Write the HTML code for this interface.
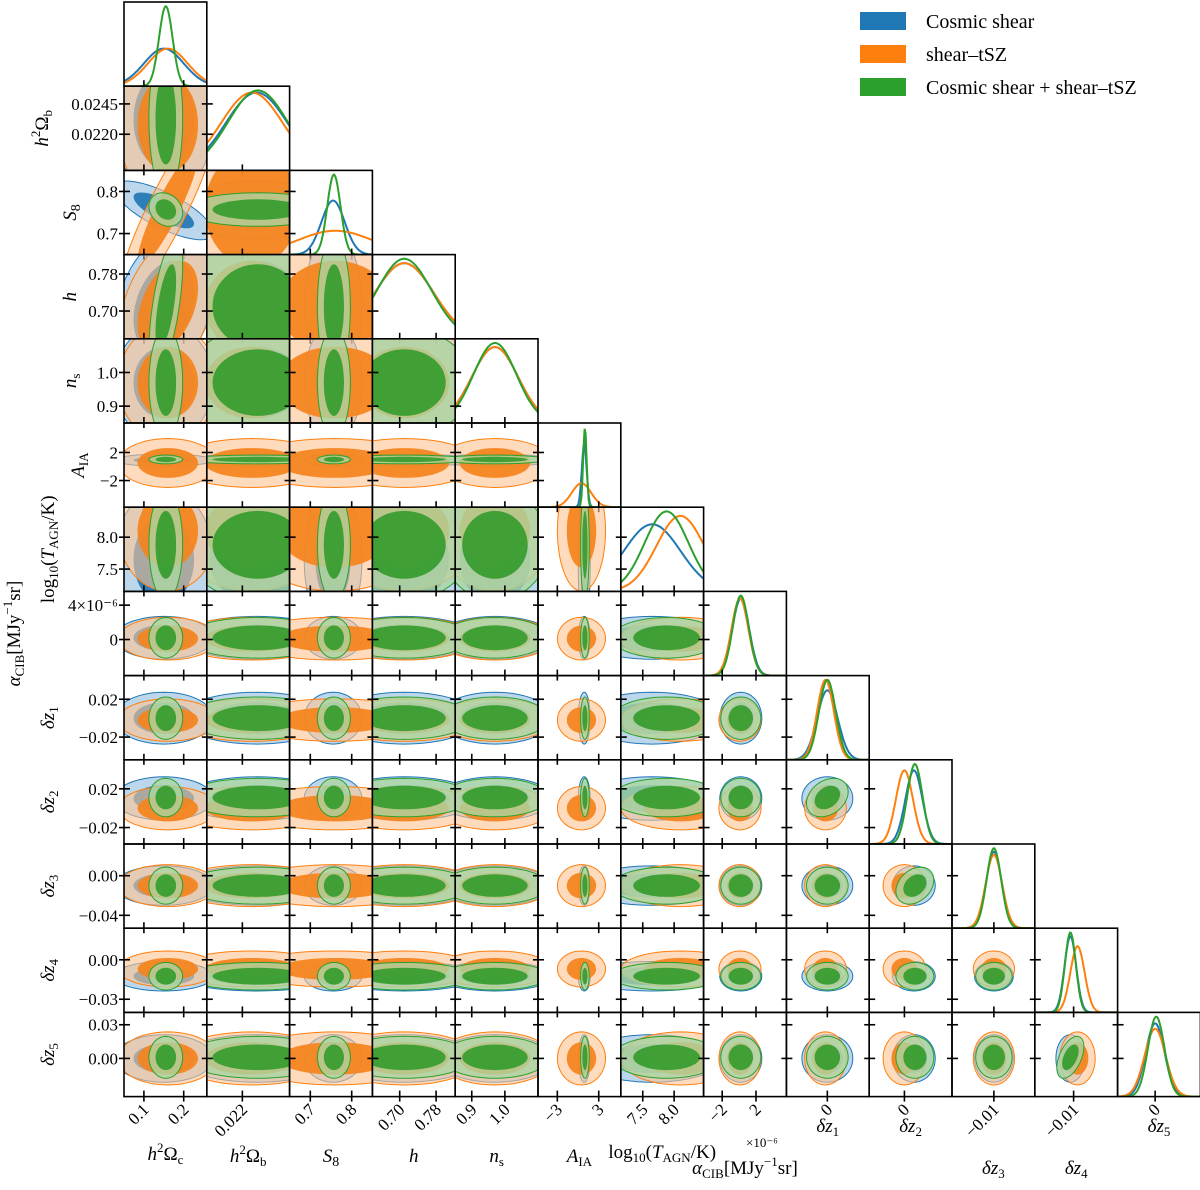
<!DOCTYPE html>
<html><head><meta charset="utf-8"><style>
html,body{margin:0;padding:0;background:#fff}
svg text{font-family:"Liberation Serif","DejaVu Serif",serif;fill:#000}
</style></head><body>
<svg id="chart" width="1200" height="1185" viewBox="0 0 1200 1185" xmlns="http://www.w3.org/2000/svg">
<g id="legend">
<g><rect x="860" y="12" width="46" height="18" fill="#1f77b4"/><text x="926" y="28" font-size="20">Cosmic shear</text></g>
<g><rect x="860" y="45" width="46" height="18" fill="#ff7f0e"/><text x="926" y="61" font-size="20">shear–tSZ</text></g>
<g><rect x="860" y="78" width="46" height="18" fill="#2ca02c"/><text x="926" y="94" font-size="20">Cosmic shear + shear–tSZ</text></g>
</g>
</svg>
<script>
// ---- data ----
const paramNames = ["h2Oc","h2Ob","S8","h","ns","AIA","logT","aCIB","dz1","dz2","dz3","dz4","dz5"];
const rangeLo = [0.05,0.01902,0.65,0.64,0.85,-5.8,7.15,-4.2,-0.044,-0.037,-0.053,-0.04,-0.034];
const rangeHi = [0.258,0.02596,0.85,0.822,1.10,6.2,8.47,5.6,0.045,0.05,0.032,0.024,0.041];
const xTicks = [[0.1,0.2],[0.022],[0.7,0.8],[0.70,0.78],[0.9,1.0],[-3,3],[7.5,8.0],[-2,2],[0],[0],[-0.01],[-0.01],[0]];
const xTickLabels = [["0.1","0.2"],["0.022"],["0.7","0.8"],["0.70","0.78"],["0.9","1.0"],["−3","3"],["7.5","8.0"],["−2","2"],["0"],["0"],["−0.01"],["−0.01"],["0"]];
const yTicks = [[],[0.0245,0.0220],[0.8,0.7],[0.78,0.70],[1.0,0.9],[2,-2],[8.0,7.5],[4,0],[0.02,-0.02],[0.02,-0.02],[0.00,-0.04],[0.00,-0.03],[0.03,0.00]];
const yTickLabels = [[],["0.0245","0.0220"],["0.8","0.7"],["0.78","0.70"],["1.0","0.9"],["2","−2"],["8.0","7.5"],["4×10⁻⁶","0"],["0.02","−0.02"],["0.02","−0.02"],["0.00","−0.04"],["0.00","−0.03"],["0.03","0.00"]];
// series: means and sigmas (aCIB in units of 1e-6)
const meanShear = [0.15,0.0232,0.755,0.71,0.97,0.9,7.65,0.2,0.0,0.010,-0.010,-0.0125,0.0];
const sigShear  = [0.05,0.0026,0.028,0.065,0.07,0.35,0.45,1.0,0.011,0.009,0.008,0.0045,0.0085];
const meanTSZ   = [0.16,0.0228,0.76,0.71,0.97,0.5,8.10,0.1,-0.002,0.0,-0.010,-0.007,0.0];
const sigTSZ    = [0.05,0.0026,0.09,0.065,0.07,1.4,0.38,1.0,0.009,0.009,0.0085,0.0055,0.0095];
const meanComb  = [0.155,0.0233,0.757,0.71,0.97,1.0,7.88,0.2,0.0,0.011,-0.010,-0.0125,0.001];
const sigComb   = [0.017,0.0025,0.016,0.06,0.065,0.25,0.35,0.95,0.009,0.008,0.0075,0.0042,0.0075];
const corrShear = [[0,2,-0.75],[0,3,0.3]];
const corrTSZ   = [[0,2,0.9],[0,3,0.4]];
const corrComb  = [[0,2,-0.2],[0,3,0.6],[9,8,0.3],[10,9,0.3],[11,12,0.5]];

// ---- layout ----
const NS="http://www.w3.org/2000/svg", svg=document.getElementById('chart');
const L=124,T=2,W=82.8,H=84.2,N=13;
function px(i,v){return L+i*W+(v-rangeLo[i])/(rangeHi[i]-rangeLo[i])*W;}
function py(r,v){return T+r*H+H-(v-rangeLo[r])/(rangeHi[r]-rangeLo[r])*H;}
function mk(tag,at,parent){const e=document.createElementNS(NS,tag);for(const k in at)e.setAttribute(k,at[k]);(parent||svg).appendChild(e);return e;}
const series=[
 {name:'cosmic-shear',m:meanShear,s:sigShear,c:corrShear,line:'#1f77b4',inner:'#1f77b4',outer:'#8fbde0',oo:0.6},
 {name:'shear-tsz',m:meanTSZ,s:sigTSZ,c:corrTSZ,line:'#ff7f0e',inner:'#f5831c',outer:'#ffc391',oo:0.6},
 {name:'combined',m:meanComb,s:sigComb,c:corrComb,line:'#2ca02c',inner:'#359b2e',outer:'#aad6a2',oo:0.8}];
function rho(sr,a,b){for(const t of sr.c){if((t[0]==a&&t[1]==b)||(t[0]==b&&t[1]==a))return t[2];}return 0;}
const defs=mk('defs',{});
const plotG=mk('g',{});


for(let r=0;r<N;r++){for(let c=0;c<=r;c++){
 const x0=L+c*W,y0=T+r*H;
 const cp=mk('clipPath',{id:'cp'+r+'_'+c},defs);mk('rect',{x:x0,y:y0,width:W,height:H},cp);
 const g=mk('g',{'clip-path':'url(#cp'+r+'_'+c+')'},plotG);
 
 
 if(r==c){
  let mx=0;for(const sr of series)mx=Math.max(mx,Math.pow(1/sr.s[c],0.7));
  for(const sr of series){let d='';for(let k=0;k<=80;k++){const v=rangeLo[c]+(rangeHi[c]-rangeLo[c])*k/80;const dens=Math.pow(1/sr.s[c],0.7)/mx*Math.exp(-0.5*Math.pow((v-sr.m[c])/sr.s[c],2));d+=(k?'L':'M')+px(c,v).toFixed(1)+','+(y0+H-dens*H*0.95).toFixed(1);}
   const p=mk('path',{d:d,fill:'none',stroke:sr.line,'stroke-width':2},g);
   
   }
 } else {
  for(const sr of series){
   const mxv=sr.m[c],myv=sr.m[r],sx=sr.s[c],sy=sr.s[r],rh=rho(sr,c,r);
   [[2.49,'outer'],[1.52,'inner']].forEach(([k,lv])=>{let d='';for(let t=0;t<=60;t++){const a=t/60*2*Math.PI;const xv=mxv+k*sx*Math.cos(a);const yv=myv+k*sy*(rh*Math.cos(a)+Math.sqrt(1-rh*rh)*Math.sin(a));d+=(t?'L':'M')+px(c,xv).toFixed(1)+','+py(r,yv).toFixed(1);}d+='Z';
    const e=mk('path',{d:d,fill:lv=='outer'?sr.outer:sr.inner,'fill-opacity':lv=='outer'?sr.oo:0.92,stroke:sr.line,'stroke-width':lv=='outer'?1:0},g);
    
    });
  }
 }
 const fr=mk('rect',{x:x0,y:y0,width:W,height:H,fill:'none',stroke:'#000','stroke-width':1.6},plotG);
 
 
 xTicks[c].forEach(v=>{const x=px(c,v);mk('line',{x1:x,x2:x,y1:y0+H-6,y2:y0+H+5,stroke:'#000','stroke-width':1.6},plotG);});
 if(r>0)yTicks[r].forEach(v=>{const y=py(r,v);mk('line',{x1:x0-5,x2:x0+6,y1:y,y2:y,stroke:'#000','stroke-width':1.6},plotG);});
}}
// left tick labels
for(let r=1;r<N;r++){yTicks[r].forEach((v,i)=>{const t=mk('text',{x:118,y:py(r,v)+6,'font-size':17,'text-anchor':'end'});t.textContent=yTickLabels[r][i];
 
 });}
// bottom tick labels
const by=T+N*H+8;
for(let c=0;c<N;c++){xTicks[c].forEach((v,i)=>{const x=px(c,v);const t=mk('text',{x:x+6,y:by+6,'font-size':17,'text-anchor':'end',transform:'rotate(-45 '+(x+6)+' '+(by+6)+')'});t.textContent=xTickLabels[c][i];
 
 });}
// axis labels
const labHTML=['<tspan font-style="italic">h</tspan><tspan dy="-8" font-size="13">2</tspan><tspan dy="8">Ω</tspan><tspan dy="4" font-size="13">c</tspan>',
'<tspan font-style="italic">h</tspan><tspan dy="-8" font-size="13">2</tspan><tspan dy="8">Ω</tspan><tspan dy="4" font-size="13">b</tspan>',
'<tspan font-style="italic">S</tspan><tspan dy="4" font-size="14">8</tspan>',
'<tspan font-style="italic">h</tspan>',
'<tspan font-style="italic">n</tspan><tspan dy="4" font-size="13">s</tspan>',
'<tspan font-style="italic">A</tspan><tspan dy="4" font-size="13">IA</tspan>',
'log<tspan dy="4" font-size="13">10</tspan><tspan dy="-4">(</tspan><tspan font-style="italic">T</tspan><tspan dy="4" font-size="13">AGN</tspan><tspan dy="-4">/K)</tspan>',
'<tspan font-style="italic">α</tspan><tspan dy="4" font-size="13">CIB</tspan><tspan dy="-4">[MJy</tspan><tspan dy="-8" font-size="13">−1</tspan><tspan dy="8">sr]</tspan>',
'<tspan font-style="italic">δz</tspan><tspan dy="4" font-size="13">1</tspan>','<tspan font-style="italic">δz</tspan><tspan dy="4" font-size="13">2</tspan>',
'<tspan font-style="italic">δz</tspan><tspan dy="4" font-size="13">3</tspan>','<tspan font-style="italic">δz</tspan><tspan dy="4" font-size="13">4</tspan>',
'<tspan font-style="italic">δz</tspan><tspan dy="4" font-size="13">5</tspan>'];
const bLabY=[1160,1162,1162,1162,1162,1162,1158,1174,1132,1132,1174,1174,1132];
for(let c=0;c<N;c++){const t=mk('text',{x:L+c*W+W/2,y:bLabY[c],'font-size':19,'text-anchor':'middle'});t.innerHTML=labHTML[c];
 
 }
const off=mk('text',{x:746,y:1147,'font-size':13});off.textContent='×10⁻⁶';


const yLabX=[0,48,76,76,76,84,54,20,54,54,54,54,54];
for(let r=1;r<N;r++){const cy=T+r*H+H/2;const x=yLabX[r];const t=mk('text',{x:x,y:cy,'font-size':19,'text-anchor':'middle',transform:'rotate(-90 '+x+' '+cy+')'});t.innerHTML=labHTML[r];
 
 }
svg.appendChild(document.getElementById('legend'));
</script>
</body></html>
